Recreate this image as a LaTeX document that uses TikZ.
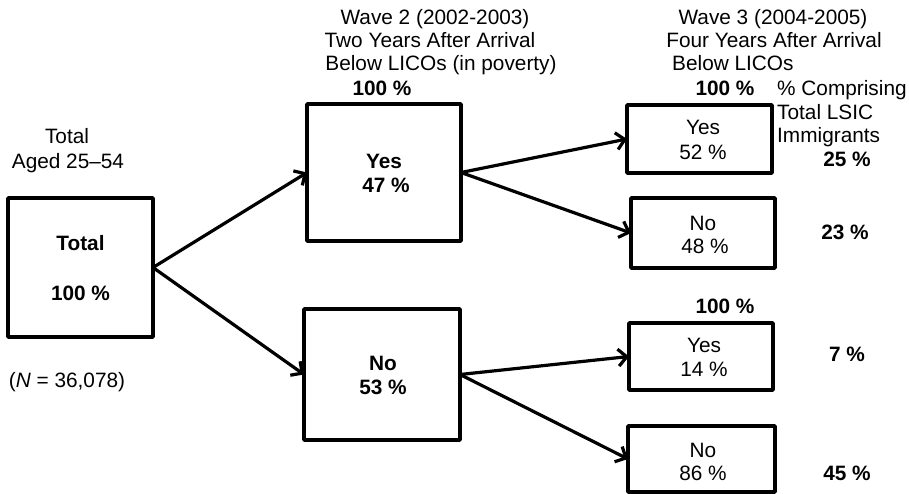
\documentclass[tikz,border=0pt]{standalone}
\usepackage{fontspec}
\setmainfont{Liberation Sans}
\usetikzlibrary{arrows.meta}
\tikzset{
  box/.style={draw, line width=3.8pt, inner sep=0pt, outer sep=0pt, rounded corners=0.8pt},
  txt/.style={anchor=base, inner sep=0pt, font=\fontsize{20.8}{23.5}\selectfont},
  txtl/.style={anchor=base west, inner sep=0pt, font=\fontsize{20.8}{23.5}\selectfont},
  btxt/.style={txt, font=\fontsize{20.8}{23.5}\selectfont\bfseries},
  arr/.style={line width=3.2pt, -{Straight Barb[length=8.5pt,width=17pt,line width=3.2pt]}}
}
\begin{document}
\begin{tikzpicture}[x=1pt,y=-1pt]
\useasboundingbox (0,0) rectangle (909,494);
% boxes
\node[box, minimum width=145pt, minimum height=139pt] (tot) at (80.5,267.5) {};
\node[box, minimum width=154pt, minimum height=137pt] (y2) at (384,172.5) {};
\node[box, minimum width=156pt, minimum height=131pt] (n2) at (382,374.5) {};
\node[box, minimum width=145pt, minimum height=68pt] (y3a) at (699.5,139) {};
\node[box, minimum width=144pt, minimum height=70pt] (n3a) at (703,233) {};
\node[box, minimum width=144pt, minimum height=67pt] (y3b) at (701,356.5) {};
\node[box, minimum width=147pt, minimum height=66pt] (n3b) at (701.5,459) {};
% arrows
\draw[arr] (tot.east) -- (y2.west);
\draw[arr] (tot.east) -- (n2.west);
\draw[arr] (y2.east) -- (y3a.west);
\draw[arr] (y2.east) -- (n3a.west);
\draw[arr] (n2.east) -- (y3b.west);
\draw[arr] (n2.east) -- (n3b.west);
% left labels
\node[txt] (lt1) at (67,144) {Total};
\node[txt] (lt2) at (68,168.5) {Aged 25--54};
\node[btxt] (tt1) at (80.5,250) {Total};
\node[btxt] (tt2) at (80.5,300) {100 \%};
\node[txt] (nn) at (67,387) {(\textit{N} = 36,078)};
% wave 2 header
\node[txt] (w2a) at (435,25) {Wave 2 (2002-2003)};
\node[txt] (w2b) at (430,48) {Two Years After Arrival};
\node[txt] (w2c) at (441,71) {Below LICOs (in poverty)};
\node[btxt] (w2d) at (382,96) {100 \%};
\node[btxt] (y2t1) at (384,169) {Yes};
\node[btxt] (y2t2) at (386,193) {47 \%};
\node[btxt] (n2t1) at (383,370) {No};
\node[btxt] (n2t2) at (383,394) {53 \%};
% wave 3 header
\node[txt] (w3a) at (773,25) {Wave 3 (2004-2005)};
\node[txt] (w3b) at (774,48) {Four Years After Arrival};
\node[txtl] (w3c) at (672,71) {Below LICOs};
\node[btxt] (w3d) at (725,96) {100 \%};
\node[txtl] (c1) at (777,96) {\% Comprising};
\node[txtl] (c2) at (777,120) {Total LSIC};
\node[txtl] (c3) at (777,143) {Immigrants};
\node[btxt] (p25) at (847,167) {25 \%};
\node[btxt] (p23) at (845,240) {23 \%};
\node[txt] (y3at1) at (703,135) {Yes};
\node[txt] (y3at2) at (703,160) {52 \%};
\node[txt] (n3at1) at (703,230) {No};
\node[txt] (n3at2) at (705,253) {48 \%};
\node[btxt] (w3e) at (725,313) {100 \%};
\node[txt] (y3bt1) at (704,352) {Yes};
\node[txt] (y3bt2) at (704,376) {14 \%};
\node[btxt] (p7) at (847,361) {7 \%};
\node[txt] (n3bt1) at (703,457) {No};
\node[txt] (n3bt2) at (703,480) {86 \%};
\node[btxt] (p45) at (847,480) {45 \%};
\end{tikzpicture}
\end{document}
